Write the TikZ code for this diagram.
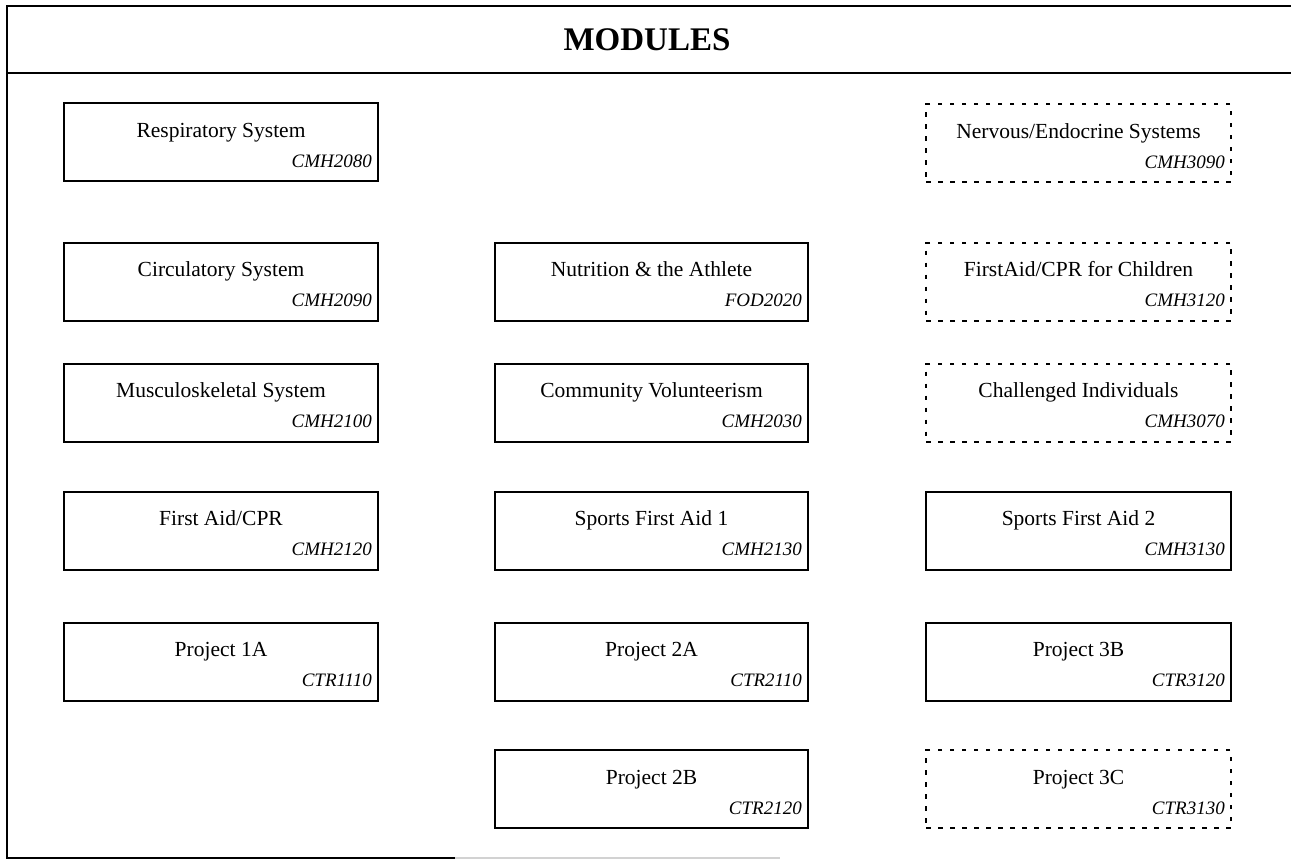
\documentclass[tikz,border=0pt]{standalone}
\usepackage{fontspec}
\setmainfont{Liberation Serif}
\tikzset{
  frameline/.style={line width=2pt, line cap=rect},
  solidbox/.style={draw, line width=2pt, rectangle, inner sep=0pt},
  dotbox/.style={draw, line width=2pt, rectangle, inner sep=0pt, dash pattern=on 4.5pt off 7.5pt},
  colA/.style={minimum width=314pt, minimum height=78pt},
  colB/.style={minimum width=313pt, minimum height=78pt},
  colC/.style={minimum width=305pt, minimum height=78pt},
  maintext/.style={font=\fontsize{21.5pt}{24pt}\selectfont, inner sep=0pt, anchor=base},
  codetext/.style={font=\fontsize{19pt}{22pt}\selectfont\itshape, inner sep=0pt, anchor=base east},
  headtext/.style={font=\fontsize{33pt}{36pt}\selectfont\bfseries, inner sep=0pt, anchor=base}
}
% one module: name, box style, centre x, centre y, title, course code
\newcommand\modbox[6]{%
  \node[#2] (#1) at (#3,#4) {};
  \node[maintext] (#1-t) at ([yshift=-35pt]#1.north) {#5};
  \node[codetext] (#1-c) at ([xshift=-7pt,yshift=15pt]#1.south east) {#6};
}
\begin{document}
\begin{tikzpicture}[x=1pt,y=-1pt]
\useasboundingbox (0,0) rectangle (1291,860);
% outer frame and heading band
\coordinate (tl) at (7,6);
\coordinate (tr) at (1292,6);
\coordinate (hl) at (7,73);
\coordinate (hr) at (1292,73);
\coordinate (bl) at (7,858);
\coordinate (bm) at (455,858);
\coordinate (br) at (780,858);
\draw[frameline] (tr) -- (tl) -- (bl) -- (bm);
\draw[line width=2pt, gray!35] (bm) -- (br);
\draw[frameline] (hl) -- (hr);
\node[headtext] (head) at (647,50) {MODULES};

% first column
\modbox{resp}{solidbox,colA}{221}{142}{Respiratory System}{CMH2080}
\modbox{circ}{solidbox,colA}{221}{281.5}{Circulatory System}{CMH2090}
\modbox{musc}{solidbox,colA}{221}{402.5}{Musculoskeletal System}{CMH2100}
\modbox{fa}{solidbox,colA}{221}{530.5}{First Aid/CPR}{CMH2120}
\modbox{poa}{solidbox,colA}{221}{661.5}{Project 1A}{CTR1110}

% second column
\modbox{nutr}{solidbox,colB}{651.5}{281.5}{Nutrition \& the Athlete}{FOD2020}
\modbox{comm}{solidbox,colB}{651.5}{402.5}{Community Volunteerism}{CMH2030}
\modbox{sfa}{solidbox,colB}{651.5}{530.5}{Sports First Aid 1}{CMH2130}
\modbox{ptwoa}{solidbox,colB}{651.5}{661.5}{Project 2A}{CTR2110}
\modbox{ptwob}{solidbox,colB}{651.5}{789}{Project 2B}{CTR2120}

% third column
\modbox{nerv}{dotbox,colC}{1078.5}{143}{Nervous/Endocrine Systems}{CMH3090}
\modbox{fac}{dotbox,colC}{1078.5}{281.5}{FirstAid/CPR for Children}{CMH3120}
\modbox{chal}{dotbox,colC}{1078.5}{402.5}{Challenged Individuals}{CMH3070}
\modbox{sfb}{solidbox,colC}{1078.5}{530.5}{Sports First Aid 2}{CMH3130}
\modbox{pthb}{solidbox,colC}{1078.5}{661.5}{Project 3B}{CTR3120}
\modbox{pthc}{dotbox,colC}{1078.5}{789}{Project 3C}{CTR3130}
\end{tikzpicture}
\end{document}
